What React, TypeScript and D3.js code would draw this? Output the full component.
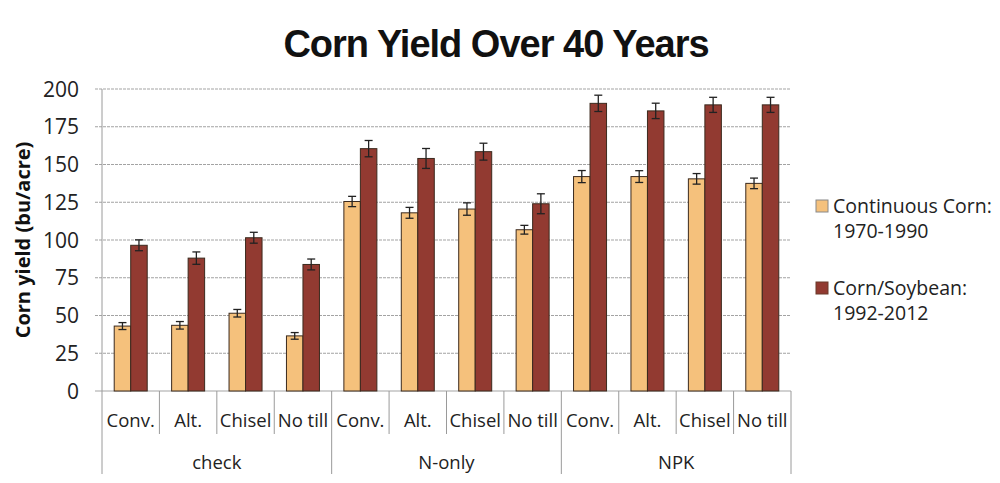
import * as d3 from 'd3';

const groups = ['check', 'N-only', 'NPK'];
const tillage = ['Conv.', 'Alt.', 'Chisel', 'No till'];
const series = ['Continuous Corn: 1970-1990', 'Corn/Soybean: 1992-2012'];
const legendLines = [
  ['Continuous Corn:', '1970-1990'],
  ['Corn/Soybean:', '1992-2012'],
];
// order: check (Conv, Alt, Chisel, No till), N-only (...), NPK (...)
const continuousCorn = [43, 43.5, 51.5, 36.5, 125.5, 118, 120.5, 106.8, 142, 142, 140.5, 137.5];
const continuousErr = [2.3, 2.5, 2.5, 2.2, 3.4, 3.6, 4.1, 2.9, 4, 3.9, 3.5, 3.5];
const cornSoybean = [96.5, 88, 101.5, 83.8, 160.5, 154, 158.5, 124, 190.5, 185.5, 189.5, 189.5];
const soybeanErr = [3.6, 4.1, 3.6, 3.6, 5.4, 6.6, 5.6, 6.6, 5.4, 5.1, 5, 5];
const yTicks = [0, 25, 50, 75, 100, 125, 150, 175, 200];

const colors = ['#f5c17c', '#923a31'];
const font = '"Open Sans", "Noto Sans", sans-serif';

export default function App() {
  const width = 1000;
  const height = 483;
  const left = 102;
  const right = 791;
  const top = 89;
  const bottom = 391;

  const cells = groups.flatMap((g) => tillage.map((t) => `${g}|${t}`));
  const x = d3.scaleBand<string>().domain(cells).range([left, right]).padding(0);
  const xg = d3.scaleBand<string>().domain(groups).range([left, right]).padding(0);
  const inner = d3
    .scaleBand<string>()
    .domain(series)
    .range([0, x.bandwidth()])
    .paddingInner(0)
    .paddingOuter(0.74);
  const y = d3.scaleLinear().domain([0, 200]).range([bottom, top]);

  const values = [continuousCorn, cornSoybean];
  const errs = [continuousErr, soybeanErr];

  return (
    <svg width={width} height={height} style={{ display: 'block', position: 'absolute', left: 0, top: 0, background: '#fff' }}>
      <text x={496} y={57} textAnchor="middle" fontFamily='"Liberation Sans", Arial, sans-serif' fontWeight="bold" fontSize={38} letterSpacing={-1} fill="#111">
        Corn Yield Over 40 Years
      </text>

      {/* gridlines */}
      {yTicks.map((t) => (
        <line key={t} x1={95} x2={right} y1={y(t)} y2={y(t)} stroke="#a3a3a3" strokeWidth={1.2} strokeDasharray={t === 0 ? undefined : '3,1'} />
      ))}
      {yTicks.map((t) => (
        <text key={'l' + t} x={79} y={y(t) + 7.5} textAnchor="end" fontFamily={font} fontSize={21} fill="#222">
          {t}
        </text>
      ))}
      <text transform={`translate(30,${(top + bottom) / 2}) rotate(-90)`} textAnchor="middle" fontFamily={font} fontWeight="bold" fontSize={20} fill="#111">
        Corn yield (bu/acre)
      </text>

      {/* axes frame */}
      <line x1={left} x2={left} y1={top} y2={474} stroke="#9a9a9a" />
      <line x1={right} x2={right} y1={bottom} y2={474} stroke="#9a9a9a" />
      {cells.map((c, i) =>
        i === 0 ? null : (
          <line
            key={'s' + c}
            x1={x(c)!}
            x2={x(c)!}
            y1={bottom}
            y2={i % tillage.length === 0 ? 474 : 434}
            stroke="#9a9a9a"
          />
        )
      )}

      {/* bars */}
      {cells.map((c, i) =>
        series.map((s, si) => {
          const v = values[si][i];
          const e = errs[si][i];
          const bx = x(c)! + inner(s)!;
          const bw = inner.bandwidth();
          const cx = bx + bw / 2;
          return (
            <g key={c + s}>
              <rect x={bx} y={y(v)} width={bw} height={bottom - y(v)} fill={colors[si]} stroke="#3b2a1e" strokeWidth={1} />
              <line x1={cx} x2={cx} y1={y(v + e)} y2={y(v - e)} stroke="#222" strokeWidth={1.3} />
              <line x1={cx - 4} x2={cx + 4} y1={y(v + e)} y2={y(v + e)} stroke="#222" strokeWidth={1.3} />
              <line x1={cx - 4} x2={cx + 4} y1={y(v - e)} y2={y(v - e)} stroke="#222" strokeWidth={1.3} />
            </g>
          );
        })
      )}

      {/* x labels */}
      {cells.map((c) => (
        <text key={'t' + c} x={x(c)! + x.bandwidth() / 2} y={427} textAnchor="middle" fontFamily={font} fontSize={18.5} fill="#222">
          {c.split('|')[1]}
        </text>
      ))}
      {groups.map((g) => (
        <text key={'g' + g} x={xg(g)! + xg.bandwidth() / 2} y={469} textAnchor="middle" fontFamily={font} fontSize={18.5} fill="#222">
          {g}
        </text>
      ))}

      {/* legend */}
      {legendLines.map((lines, i) => (
        <g key={'lg' + i} transform={`translate(816,${200 + i * 82})`}>
          <rect x={0} y={0} width={12} height={12} fill={colors[i]} stroke={i === 0 ? '#888' : '#6b3a2a'} />
          <text x={17} y={13} fontFamily={font} fontSize={19.5} fill="#222">
            {lines[0]}
          </text>
          <text x={17} y={38} fontFamily={font} fontSize={19.5} fill="#222">
            {lines[1]}
          </text>
        </g>
      ))}
    </svg>
  );
}
